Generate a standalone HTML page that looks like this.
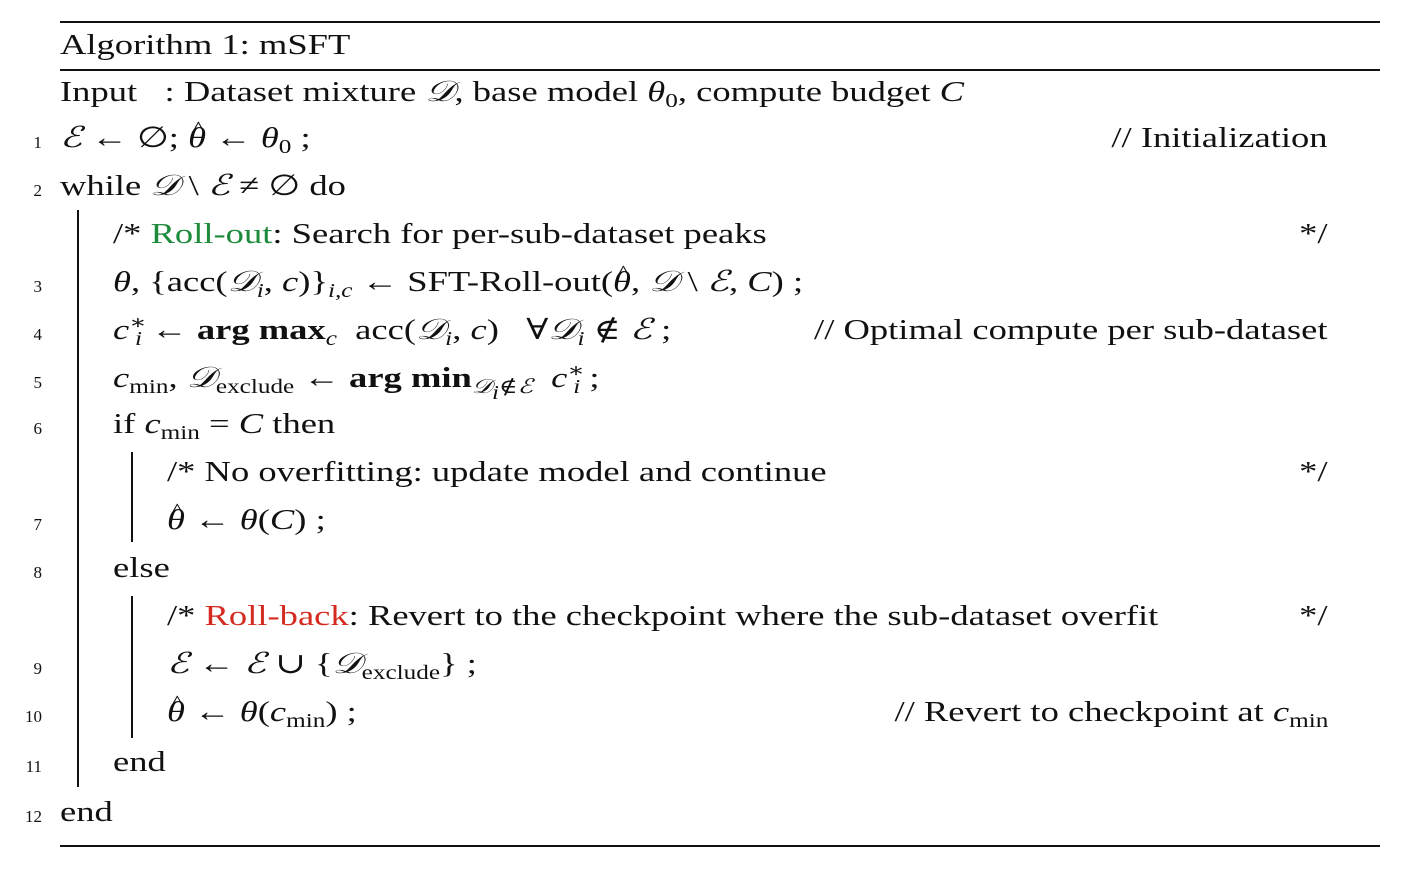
<!DOCTYPE html>
<html><head><meta charset="utf-8"><style>
body{margin:0;width:1408px;height:874px;background:#fff;position:relative;overflow:hidden;font-family:"Liberation Serif","DejaVu Serif",serif;color:#111;}
.r{position:absolute;background:#111;}
.l{position:absolute;font-size:29px;line-height:29px;white-space:nowrap;transform:scaleX(1.26);transform-origin:left top;}
.n{position:absolute;font-size:17px;line-height:17px;width:42px;text-align:right;left:0;}
.c{position:absolute;font-size:29px;line-height:29px;white-space:nowrap;right:80px;transform:scaleX(1.26);transform-origin:right top;}
i{font-style:italic;}
sub{font-size:20px;vertical-align:-6px;line-height:0;}
sup{font-size:20px;vertical-align:10px;line-height:0;}
.g{color:#1e8a3c}.red{color:#d42a20}
.h{position:relative;display:inline-block;font-style:italic;}
.h::after{content:"^";position:absolute;left:3px;top:-10px;font-style:normal;font-size:22px;}
</style></head><body>
<div class="r" style="left:60px;top:21px;width:1320px;height:2px"></div>
<div class="r" style="left:60px;top:69px;width:1320px;height:1.5px"></div>
<div class="r" style="left:60px;top:845px;width:1320px;height:2px"></div>
<div class="r" style="left:77px;top:210px;width:1.5px;height:577px"></div>
<div class="r" style="left:131px;top:452px;width:1.5px;height:90px"></div>
<div class="r" style="left:131px;top:596px;width:1.5px;height:142px"></div>

<div class="l" style="left:60px;top:31px">Algorithm 1: mSFT</div>
<div class="l" style="left:60px;top:78px">Input &nbsp;&nbsp;: Dataset mixture <i>𝒟</i>, base model <i>θ</i><sub>0</sub>, compute budget <i>C</i></div>

<div class="n" style="top:134px">1</div>
<div class="l" style="left:60px;top:124px"><i>ℰ</i> ← ∅; <span class="h">θ</span> ← <i>θ</i><sub>0</sub> ;</div>
<div class="c" style="top:124px">// Initialization</div>

<div class="n" style="top:182px">2</div>
<div class="l" style="left:60px;top:172px">while <i>𝒟</i> \ <i>ℰ</i> ≠ ∅ do</div>

<div class="l" style="left:113px;top:220px">/* <span class="g">Roll-out</span>: Search for per-sub-dataset peaks</div>
<div class="c" style="top:220px">*/</div>

<div class="n" style="top:278px">3</div>
<div class="l" style="left:113px;top:268px"><i>θ</i>, {acc(<i>𝒟<sub>i</sub></i>, <i>c</i>)}<sub><i>i,c</i></sub> ← SFT-Roll-out(<span class="h">θ</span>, <i>𝒟</i> \ <i>ℰ</i>, <i>C</i>) ;</div>

<div class="n" style="top:326px">4</div>
<div class="l" style="left:113px;top:316px"><i>c</i><sup>∗</sup><sub style="margin-left:-9px"><i>i</i></sub> ← <b>arg max</b><sub><i>c</i></sub> &nbsp;acc(<i>𝒟<sub>i</sub></i>, <i>c</i>) &nbsp;&nbsp;∀<i>𝒟<sub>i</sub></i> ∉ <i>ℰ</i> ;</div>
<div class="c" style="top:316px">// Optimal compute per sub-dataset</div>

<div class="n" style="top:374px">5</div>
<div class="l" style="left:113px;top:364px"><i>c</i><sub>min</sub>, <i>𝒟</i><sub>exclude</sub> ← <b>arg min</b><sub><i>𝒟<sub>i</sub></i>∉<i>ℰ</i></sub> &nbsp;<i>c</i><sup>∗</sup><sub style="margin-left:-9px"><i>i</i></sub> ;</div>

<div class="n" style="top:420px">6</div>
<div class="l" style="left:113px;top:410px">if <i>c</i><sub>min</sub> = <i>C</i> then</div>

<div class="l" style="left:167px;top:458px">/* No overfitting: update model and continue</div>
<div class="c" style="top:458px">*/</div>

<div class="n" style="top:516px">7</div>
<div class="l" style="left:167px;top:506px"><span class="h">θ</span> ← <i>θ</i>(<i>C</i>) ;</div>

<div class="n" style="top:564px">8</div>
<div class="l" style="left:113px;top:554px">else</div>

<div class="l" style="left:167px;top:602px">/* <span class="red">Roll-back</span>: Revert to the checkpoint where the sub-dataset overfit</div>
<div class="c" style="top:602px">*/</div>

<div class="n" style="top:660px">9</div>
<div class="l" style="left:167px;top:650px"><i>ℰ</i> ← <i>ℰ</i> ∪ {<i>𝒟</i><sub>exclude</sub>} ;</div>

<div class="n" style="top:708px">10</div>
<div class="l" style="left:167px;top:698px"><span class="h">θ</span> ← <i>θ</i>(<i>c</i><sub>min</sub>) ;</div>
<div class="c" style="top:698px">// Revert to checkpoint at <i>c</i><sub>min</sub></div>

<div class="n" style="top:758px">11</div>
<div class="l" style="left:113px;top:748px">end</div>

<div class="n" style="top:808px">12</div>
<div class="l" style="left:60px;top:798px">end</div>
</body></html>
